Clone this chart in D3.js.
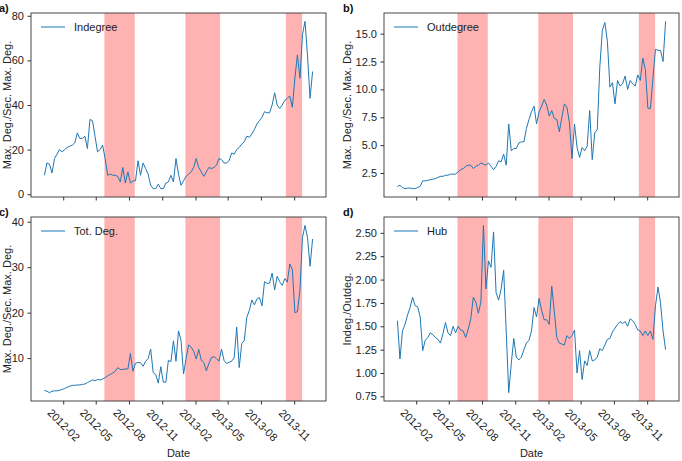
<!DOCTYPE html>
<meta charset="utf-8">
<script src="https://d3js.org/d3.v7.min.js"></script>
<style>
  body { margin: 0; background: #fff; }
  text { font-family: "Liberation Sans", Arial, sans-serif; }
</style>
<body>
<div id="chart"></div>
<script>
// weekly samples, first one on 2011-12-11
var startDate = new Date(2011, 11, 11)

var indegree = [8.5,14,13.5,9.5,16,18,20,19,20,21,
  21.5,22,23,27.5,25,25,26,20.5,33.5,33,
  26,19,20,22,16,8.5,9,8.5,8.5,8,
  5.5,12,5,10,5,6,6,15,8.5,14,
  11.5,9,4,2.5,2.5,4.5,2.5,2.5,5,5.5,
  8.5,5.5,16,9,4,6,8,9,10,12,
  16,12,10,8,10,12,11.5,12,13,16,
  15.5,14,14,15,18.5,18,20,21,22.5,23.5,
  26,25.5,27,29,31.5,33,34.5,37,36.5,36.5,
  40,45.5,40,38.5,40,42,43,44,39,52,
  62.5,52,71.5,77.5,62,43,55]

var outdegree = [1.3,1.4,1.2,1.1,1.15,1.15,1.1,1.1,1.2,1.3,
  1.8,1.8,1.85,1.9,1.95,2.0,2.1,2.2,2.2,2.3,
  2.3,2.4,2.4,2.4,2.6,2.8,2.9,3.1,3.2,3.2,
  2.9,3.1,3.2,3.4,3.3,3.2,3.4,3.1,2.8,3.1,
  3.6,3.5,4.2,3.2,6.9,4.5,4.7,4.7,5.2,5.3,
  5.3,6.5,7.3,8.0,8.5,6.9,8.0,8.5,9.1,8.6,
  7.6,8.1,7.4,7.3,6.2,7.5,8.7,8.4,7.0,3.8,
  6.9,4.8,3.9,4.8,4.5,4.9,8.1,3.7,6.1,6.4,
  12.0,15.3,16.0,14.3,10.2,10.6,8.7,10.8,10.3,10.5,
  11.2,10.0,10.8,10.5,10.3,11.3,10.8,12.8,11.8,8.3,
  8.3,11.0,13.6,13.5,13.5,12.5,16.1]

var totDeg = [2.9,2.7,2.4,2.7,2.8,2.8,2.9,3.1,3.3,3.6,
  3.8,4.0,4.0,4.1,4.1,4.2,4.3,4.6,4.9,5.2,
  5.0,5.3,5.2,5.4,5.7,6.1,6.4,6.7,7.1,7.9,
  7.5,7.5,7.6,7.6,11.0,7.1,8.9,9.0,9.0,8.2,
  9.3,9.9,12.0,6.8,6.4,4.5,8.1,4.7,4.7,9.5,
  9.2,13.8,9.3,16.0,13.9,6.5,9.9,12.9,12.4,11.5,
  9.8,11.9,9.6,9.0,7.2,8.8,10.1,10.3,9.9,9.3,
  12.0,9.5,8.8,9.1,9.3,10.1,16.8,7.9,13.2,13.9,
  19.0,20.5,22.8,21.7,23.0,23.3,21.5,26.8,26.4,26.5,
  28.7,25.0,28.0,26.8,26.0,27.5,26.7,30.7,29.5,20.0,
  20.2,25.0,36.5,39.2,36.5,30.2,36.2]

var hub = [1.56,1.15,1.45,1.52,1.62,1.70,1.81,1.72,1.71,1.60,
  1.24,1.35,1.38,1.43,1.41,1.38,1.36,1.32,1.42,1.54,
  1.43,1.40,1.50,1.43,1.50,1.46,1.45,1.38,1.47,1.58,
  1.81,1.76,1.64,1.76,2.58,1.90,2.20,2.13,2.51,1.86,
  1.78,1.90,2.10,1.45,0.79,1.10,1.37,1.17,1.14,1.17,
  1.25,1.32,1.35,1.45,1.70,1.60,1.80,1.67,1.57,1.57,
  1.52,1.93,1.66,1.38,1.32,1.31,1.30,1.40,1.37,1.40,
  1.46,1.00,1.24,0.93,1.13,1.08,1.24,1.13,1.14,1.17,
  1.26,1.24,1.30,1.36,1.37,1.44,1.48,1.52,1.55,1.53,
  1.55,1.50,1.58,1.56,1.52,1.46,1.45,1.40,1.45,1.40,
  1.45,1.36,1.72,1.92,1.75,1.45,1.25]

// shaded periods
var periods = [
  ["2012-05-25", "2012-08-17"],
  ["2013-01-04", "2013-04-10"],
  ["2013-10-09", "2013-11-23"]
]

var xTickDates = ["2012-02-01","2012-05-01","2012-08-01","2012-11-01",
  "2013-02-01","2013-05-01","2013-08-01","2013-11-01"]

var panels = [
  { tag: "a)", name: "Indegree", vals: indegree, ylab: "Max. Deg./Sec. Max. Deg.",
    ticks: [0,20,40,60,80], fmt: d3.format("d"), left: 31, top: 13, bottomRow: false },
  { tag: "b)", name: "Outdegree", vals: outdegree, ylab: "Max. Deg./Sec. Max. Deg.",
    ticks: [2.5,5,7.5,10,12.5,15], fmt: d3.format(".1f"), left: 384, top: 13, bottomRow: false },
  { tag: "c)", name: "Tot. Deg.", vals: totDeg, ylab: "Max. Deg./Sec. Max. Deg.",
    ticks: [10,20,30,40], fmt: d3.format("d"), left: 31, top: 217, bottomRow: true },
  { tag: "d)", name: "Hub", vals: hub, ylab: "Indeg./Outdeg.",
    ticks: [0.75,1,1.25,1.5,1.75,2,2.25,2.5], fmt: d3.format(".2f"), left: 384, top: 217, bottomRow: true }
]

var W = 682, H = 461
var pw = 295, ph = 184
var blue = "#1f77b4"
var parse = d3.timeParse("%Y-%m-%d")

var svg = d3.select("#chart").append("svg")
  .attr("width", W).attr("height", H)

function pad(ext) {
  var m = (ext[1] - ext[0]) * 0.05
  return [ext[0] - m, ext[1] + m]
}

panels.forEach(function (p, k) {
  var data = p.vals.map(function (v, i) {
    return { date: d3.timeDay.offset(startDate, 7 * i), v: v }
  })

  var x = d3.scaleTime()
    .domain(pad(d3.extent(data, function (d) { return +d.date })))
    .range([0, pw])
  var y = d3.scaleLinear()
    .domain(pad(d3.extent(data, function (d) { return d.v })))
    .range([ph, 0])

  var g = svg.append("g").attr("transform", "translate(" + p.left + "," + p.top + ")")

  g.append("defs").append("clipPath").attr("id", "clip" + k)
    .append("rect").attr("width", pw).attr("height", ph)

  g.append("g").attr("clip-path", "url(#clip" + k + ")")
    .selectAll("rect").data(periods).enter().append("rect")
    .attr("x", function (d) { return x(parse(d[0])) })
    .attr("width", function (d) { return x(parse(d[1])) - x(parse(d[0])) })
    .attr("y", 0).attr("height", ph)
    .attr("fill", "red").attr("fill-opacity", 0.3)

  var line = d3.line()
    .x(function (d) { return x(d.date) })
    .y(function (d) { return y(d.v) })

  g.append("path").datum(data)
    .attr("d", line)
    .attr("fill", "none")
    .attr("stroke", blue)
    .attr("stroke-width", 1)
    .attr("stroke-linejoin", "round")

  // frame
  g.append("rect").attr("width", pw).attr("height", ph)
    .attr("fill", "none").attr("stroke", "#333").attr("stroke-width", 0.9)

  var yAxis = g.append("g")
    .call(d3.axisLeft(y).tickValues(p.ticks).tickFormat(p.fmt).tickSize(3.5).tickPadding(3.5))
  yAxis.select(".domain").remove()
  yAxis.selectAll("line").attr("stroke", "#333")
  yAxis.selectAll("text").attr("font-size", 11).attr("fill", "#222")
    .style("font-family", "Liberation Sans, Arial, sans-serif")

  var xAxis = g.append("g").attr("transform", "translate(0," + ph + ")")
    .call(d3.axisBottom(x).tickValues(xTickDates.map(parse))
      .tickFormat(p.bottomRow ? d3.timeFormat("%Y-%m") : "").tickSize(3.5).tickPadding(0))
  xAxis.select(".domain").remove()
  xAxis.selectAll("line").attr("stroke", "#333")

  if (p.bottomRow) {
    xAxis.selectAll("text")
      .attr("font-size", 11).attr("fill", "#222")
      .style("font-family", "Liberation Sans, Arial, sans-serif")
      .attr("text-anchor", "middle")
      .attr("dy", "0.35em")
      .attr("y", 24)
      .attr("transform", "rotate(45,0,24)")

    g.append("text")
      .attr("x", pw / 2).attr("y", ph + 56)
      .attr("text-anchor", "middle").attr("font-size", 11).attr("fill", "#222")
      .text("Date")
  } else {
    xAxis.selectAll("text").remove()
  }

  // y label
  g.append("text")
    .attr("transform", "translate(" + (p.left === 31 ? -20 : -33) + "," + (ph / 2) + ") rotate(-90)")
    .attr("text-anchor", "middle").attr("font-size", 11).attr("fill", "#222")
    .text(p.ylab)

  // panel tag
  svg.append("text")
    .attr("x", p.left === 31 ? -1 : 343).attr("y", p.top - 1)
    .attr("font-size", 11).attr("font-weight", "bold").attr("fill", "#111")
    .text(p.tag)

  // legend
  var lg = g.append("g").attr("transform", "translate(10,14)")
  lg.append("line").attr("x1", 0).attr("x2", 24).attr("y1", 0).attr("y2", 0)
    .attr("stroke", blue).attr("stroke-width", 1)
  lg.append("text").attr("x", 33).attr("y", 0).attr("dy", "0.35em")
    .attr("font-size", 11).attr("fill", "#222").text(p.name)
})
</script>
</body>
